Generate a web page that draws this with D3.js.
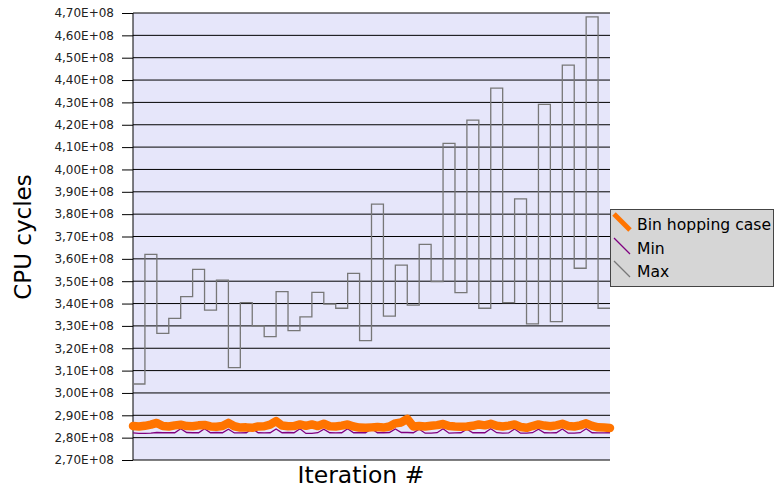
<!DOCTYPE html>
<html>
<head>
<meta charset="utf-8">
<script src="https://cdn.jsdelivr.net/npm/d3@7/dist/d3.min.js"></script>
<style>
  html, body { margin: 0; padding: 0; background: #ffffff; }
  svg { display: block; font-family: "DejaVu Sans", Verdana, sans-serif; }
</style>
</head>
<body>
<svg id="chart" width="774" height="490"></svg>
<script>
// ---- data (CPU cycles, units of 1E+08) ----
const iterationsPerRun = 10;
const runCount = 40;

// Max: one plateau level per run of iterations
const maxLevels = [
  3.040, 3.620, 3.267, 3.334, 3.431, 3.553, 3.371, 3.505, 3.113, 3.404,
  3.300, 3.252, 3.453, 3.279, 3.340, 3.450, 3.398, 3.379, 3.535, 3.234,
  3.845, 3.344, 3.572, 3.393, 3.665, 3.498, 4.117, 3.449, 4.221, 3.379,
  4.364, 3.404, 3.868, 3.309, 4.291, 3.319, 4.467, 3.558, 4.683, 3.379
];

// Bin hopping case: sampled every 5 iterations
const binHopping = [
  2.852, 2.850, 2.853, 2.858, 2.866, 2.852, 2.850, 2.855, 2.858, 2.852,
  2.851, 2.855, 2.857, 2.850, 2.849, 2.852, 2.866, 2.851, 2.845, 2.846,
  2.844, 2.850, 2.851, 2.858, 2.874, 2.854, 2.851, 2.852, 2.859, 2.853,
  2.859, 2.852, 2.862, 2.851, 2.850, 2.854, 2.859, 2.850, 2.845, 2.844,
  2.846, 2.848, 2.845, 2.850, 2.864, 2.868, 2.884, 2.850, 2.852, 2.850,
  2.853, 2.856, 2.861, 2.852, 2.850, 2.849, 2.850, 2.853, 2.859, 2.855,
  2.862, 2.853, 2.850, 2.854, 2.859, 2.848, 2.844, 2.852, 2.859, 2.854,
  2.851, 2.855, 2.862, 2.852, 2.850, 2.855, 2.864, 2.853, 2.846, 2.845,
  2.843
];

// Min: sampled every 5 iterations
const minValues = [
  2.821, 2.819, 2.819, 2.820, 2.823, 2.822, 2.822, 2.822, 2.840, 2.823,
  2.822, 2.822, 2.840, 2.822, 2.823, 2.822, 2.838, 2.821, 2.821, 2.822,
  2.840, 2.822, 2.821, 2.822, 2.839, 2.822, 2.823, 2.822, 2.840, 2.819,
  2.819, 2.822, 2.838, 2.822, 2.821, 2.822, 2.840, 2.822, 2.823, 2.822,
  2.840, 2.822, 2.822, 2.823, 2.839, 2.823, 2.823, 2.822, 2.838, 2.820,
  2.820, 2.822, 2.840, 2.820, 2.821, 2.822, 2.838, 2.822, 2.822, 2.822,
  2.840, 2.822, 2.820, 2.821, 2.839, 2.820, 2.820, 2.822, 2.838, 2.822,
  2.821, 2.822, 2.839, 2.820, 2.820, 2.822, 2.840, 2.822, 2.821, 2.821,
  2.822
];

const sampleStep = 5;
const yTicks = d3.range(2.70, 4.7001, 0.10);
const seriesNames = ["Bin hopping case", "Min", "Max"];
const seriesColors = ["#ff7400", "#800080", "#777777"];

// ---- layout ----
const svg = d3.select("#chart");
const plot = { left: 133, right: 610, top: 13, bottom: 460 };

const x = d3.scaleLinear()
  .domain([0, runCount * iterationsPerRun])
  .range([plot.left, plot.right]);
const y = d3.scaleLinear()
  .domain([2.70, 4.70])
  .range([plot.bottom, plot.top]);

// plot background
svg.append("rect")
  .attr("x", plot.left).attr("y", plot.top)
  .attr("width", plot.right - plot.left)
  .attr("height", plot.bottom - plot.top)
  .attr("fill", "#e6e6fa");

// horizontal grid lines
svg.append("g")
  .selectAll("line")
  .data(yTicks)
  .join("line")
  .attr("x1", plot.left).attr("x2", plot.right)
  .attr("y1", d => y(d)).attr("y2", d => y(d))
  .attr("stroke", "#000")
  .attr("stroke-width", 1);

// y axis with comma-decimal scientific labels
const fmt = v => v.toFixed(2).replace(".", ",") + "E+08";
const yAxis = d3.axisLeft(y)
  .tickValues(yTicks)
  .tickFormat(fmt)
  .tickSize(11)
  .tickPadding(8);
const gy = svg.append("g")
  .attr("transform", `translate(${plot.left},0)`)
  .call(yAxis);
gy.select(".domain").attr("stroke", "#000").attr("d", `M0,${plot.top}V${plot.bottom}`);
gy.selectAll(".tick line").attr("stroke", "#000");
gy.selectAll(".tick text")
  .attr("fill", "#222")
  .style("font-size", "12px")
  .style("font-family", "'DejaVu Sans', Verdana, sans-serif");

// ---- series ----
const maxPoints = maxLevels.map((v, i) => [i * iterationsPerRun, v]);
maxPoints.push([runCount * iterationsPerRun, maxLevels[maxLevels.length - 1]]);

const stepLine = d3.line()
  .x(d => x(d[0])).y(d => y(d[1]))
  .curve(d3.curveStepAfter);
const sampleLine = d3.line()
  .x((d, i) => x(i * sampleStep)).y(d => y(d));

svg.append("path")
  .datum(maxPoints)
  .attr("d", stepLine)
  .attr("fill", "none")
  .attr("stroke", seriesColors[2])
  .attr("stroke-width", 1.3);

svg.append("path")
  .datum(minValues)
  .attr("d", sampleLine)
  .attr("fill", "none")
  .attr("stroke", seriesColors[1])
  .attr("stroke-width", 1.3);

svg.append("path")
  .datum(binHopping)
  .attr("d", sampleLine)
  .attr("fill", "none")
  .attr("stroke", seriesColors[0])
  .attr("stroke-width", 8.5)
  .attr("stroke-linejoin", "round")
  .attr("stroke-linecap", "round");

// ---- axis titles ----
svg.append("text")
  .attr("transform", "translate(31,237) rotate(-90)")
  .attr("text-anchor", "middle")
  .style("font-size", "23px")
  .attr("fill", "#000")
  .text("CPU cycles");

svg.append("text")
  .attr("x", 361).attr("y", 483)
  .attr("text-anchor", "middle")
  .style("font-size", "23.5px")
  .attr("fill", "#000")
  .text("Iteration #");

// ---- legend ----
const legend = svg.append("g");
legend.append("rect")
  .attr("x", 610.5).attr("y", 209.5)
  .attr("width", 163).attr("height", 77)
  .attr("fill", "#d6d6d6")
  .attr("stroke", "#444")
  .attr("stroke-width", 1);

const legendRows = [230, 254, 277];
const legendWidths = [5, 1.3, 1.3];
seriesNames.forEach((name, i) => {
  const base = legendRows[i];
  legend.append("line")
    .attr("x1", 614).attr("y1", base - 16)
    .attr("x2", 630).attr("y2", base)
    .attr("stroke", seriesColors[i])
    .attr("stroke-width", legendWidths[i]);
  legend.append("text")
    .attr("x", 637).attr("y", base)
    .style("font-size", "15.6px")
    .attr("fill", "#000")
    .text(name);
});
</script>
</body>
</html>
